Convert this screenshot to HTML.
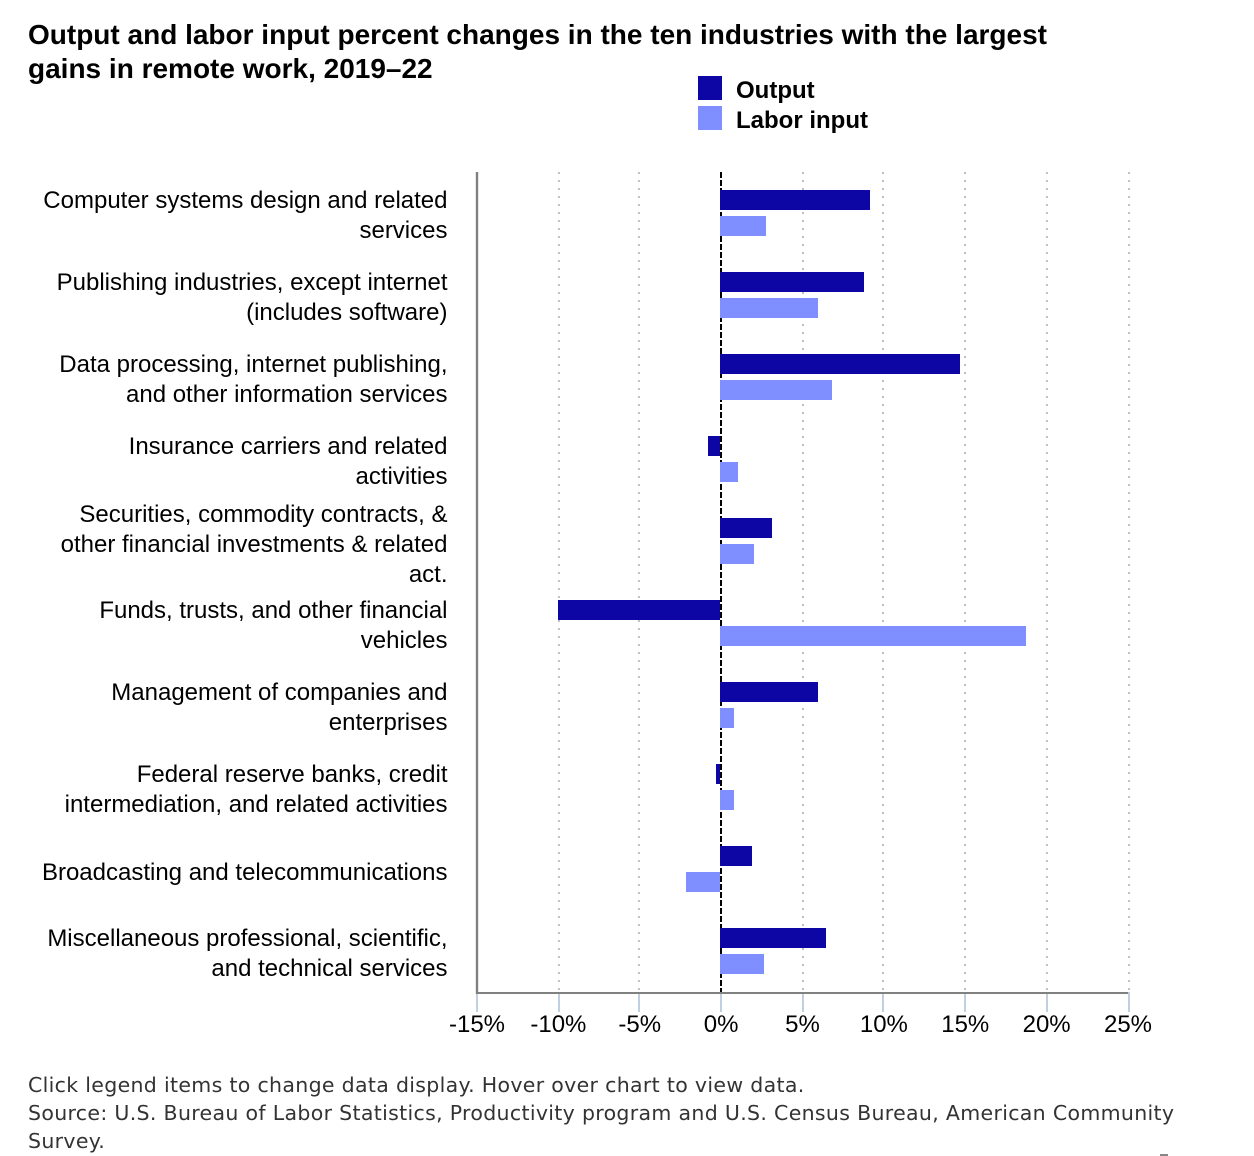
<!DOCTYPE html>
<html lang="en">
<head>
<meta charset="utf-8">
<title>Output and labor input percent changes</title>
<style>
html,body{margin:0;padding:0;background:#fff;width:1254px;height:1156px;overflow:hidden}
svg{display:block;position:absolute;left:0;top:0}
text{font-family:"Liberation Sans",Arial,sans-serif;fill:#000}
.foot{font-family:"DejaVu Sans",sans-serif;font-size:20.5px;letter-spacing:.32px;fill:#333}
</style>
</head>
<body>
<svg id="chart" width="1254" height="1156" viewBox="0 0 1254 1156" xmlns="http://www.w3.org/2000/svg">
  <g>
    <text x="28" y="44" font-weight="700" font-size="28">Output and labor input percent changes in the ten industries with the largest</text>
    <text x="28" y="78" font-weight="700" font-size="28">gains in remote work, 2019–22</text>
  </g>
  <g>
    <g>
      <rect x="698" y="76" width="24" height="24" fill="#0e05a5"></rect>
      <text x="736" y="98" font-weight="700" font-size="24">Output</text>
    </g>
    <g>
      <rect x="698" y="106" width="24" height="24" fill="#7f8fff"></rect>
      <text x="736" y="128" font-weight="700" font-size="24">Labor input</text>
    </g>
  </g>
  <g id="grid"></g>
  <g id="bars"></g>
  <g id="axes"></g>
  <g id="cats"></g>
  <g>
    <text class="foot" x="28" y="1092">Click legend items to change data display. Hover over chart to view data.</text>
    <text class="foot" x="28" y="1120">Source: U.S. Bureau of Labor Statistics, Productivity program and U.S. Census Bureau, American Community</text>
    <text class="foot" x="28" y="1148">Survey.</text>
  </g>
  <rect x="1160" y="1154" width="8" height="2" fill="#888"></rect>
</svg>
<script>
var categories = [
  ["Computer systems design and related", "services"],
  ["Publishing industries, except internet", "(includes software)"],
  ["Data processing, internet publishing,", "and other information services"],
  ["Insurance carriers and related", "activities"],
  ["Securities, commodity contracts, &", "other financial investments & related", "act."],
  ["Funds, trusts, and other financial", "vehicles"],
  ["Management of companies and", "enterprises"],
  ["Federal reserve banks, credit", "intermediation, and related activities"],
  ["Broadcasting and telecommunications"],
  ["Miscellaneous professional, scientific,", "and technical services"]
];
var outputValues = [9.2, 8.85, 14.75, -0.75, 3.2, -9.95, 6.0, -0.25, 1.95, 6.5];
var laborValues = [2.8, 6.0, 6.9, 1.1, 2.1, 18.8, 0.85, 0.85, -2.1, 2.7];
var tickValues = [-15, -10, -5, 0, 5, 10, 15, 20, 25];

var NS = "http://www.w3.org/2000/svg";
var plotLeft = 477, plotRight = 1128, plotTop = 172, plotBottom = 992;
var xMin = tickValues[0], xMax = tickValues[tickValues.length - 1];
function x(v) { return plotLeft + (v - xMin) * (plotRight - plotLeft) / (xMax - xMin); }
function snap(p) { return 2 * Math.floor(p / 2) + 1; }
function band(i) { return plotTop + i * (plotBottom - plotTop) / categories.length; }
function make(tag, attrs, parent) {
  var el = document.createElementNS(NS, tag);
  for (var k in attrs) el.setAttribute(k, attrs[k]);
  parent.appendChild(el);
  return el;
}
var grid = document.getElementById("grid");


var axes = document.getElementById("axes");


var bars = document.getElementById("bars");


var cats = document.getElementById("cats");



tickValues.forEach(function (t) {
  var px = snap(x(t));
  if (t !== 0 && t !== xMin) {
    var g = make("line", {x1: px, x2: px, y1: plotTop, y2: plotBottom, stroke: "#c0c0c0", "stroke-width": 2, "stroke-dasharray": "2 6"}, grid);
    
    
  }
  var tk = make("line", {x1: px, x2: px, y1: plotBottom, y2: 1012, stroke: "#c0d0e0", "stroke-width": 2}, axes);
  
  
  var lb = make("text", {x: x(t), y: 1032, "text-anchor": "middle", "font-size": 24}, axes);
  lb.textContent = t + "%";
  
  
});

var yAxis = make("line", {x1: 477, x2: 477, y1: plotTop, y2: 994, stroke: "#808080", "stroke-width": 2.4}, axes);


var xAxis = make("line", {x1: 476, x2: plotRight, y1: 993, y2: 993, stroke: "#808080", "stroke-width": 2}, axes);



var zero = make("line", {x1: 721, x2: 721, y1: plotTop, y2: plotBottom, stroke: "#000", "stroke-width": 2, "stroke-dasharray": "6 2"}, grid);



function drawBar(v, y, color, name) {
  var x0 = x(0) - 1, x1 = x(v) - 1;
  var r = make("rect", {x: Math.round(Math.min(x0, x1)), y: y, width: Math.round(Math.abs(x1 - x0)), height: 20, fill: color}, bars);
  
  
}
categories.forEach(function (lines, i) {
  drawBar(outputValues[i], band(i) + 18, "#0e05a5", "bar-output");
  drawBar(laborValues[i], band(i) + 44, "#7f8fff", "bar-labor-input");
  var cy = band(i) + 41;
  var first = cy - (lines.length - 1) * 15 + (lines.length % 2 ? 11 : 10);
  lines.forEach(function (ln, j) {
    var t = make("text", {x: 447.5, y: first + j * 30, "text-anchor": "end", "font-size": 24}, cats);
    t.textContent = ln;
    
    
  });
});
</script>
</body>
</html>
